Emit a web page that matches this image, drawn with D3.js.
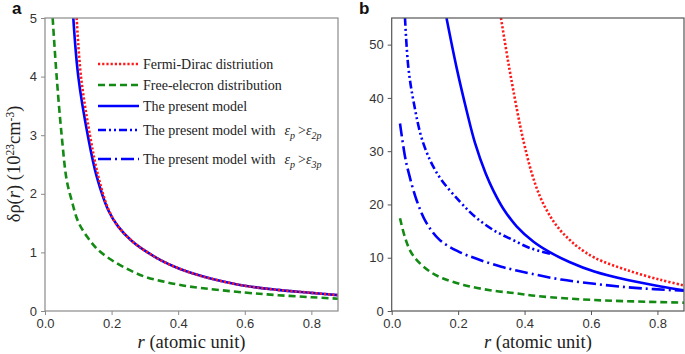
<!DOCTYPE html>
<html lang="en">
<head>
<meta charset="UTF-8">
<title>Induced density: panels a and b</title>
<script src="https://d3js.org/d3.v7.min.js"></script>
<style>
    body { margin: 0; background: #fff; }
    svg { display: block; }
    .tick text { font-family: "Liberation Sans", Arial, sans-serif; font-size: 13px; fill: #333; }
    .label { font-family: "Liberation Serif", "Times New Roman", serif; font-size: 18.5px; fill: #222; }
    .legend text { font-family: "Liberation Serif", "Times New Roman", serif; font-size: 14px; fill: #222; }
    .panel-tag { font-family: "Liberation Sans", Arial, sans-serif; font-size: 17px; font-weight: bold; fill: #111; }
</style>
</head>
<body>
<div id="chart"></div>
<script>
// ---- data: [r (a.u.), delta rho] ----
// panel a (units of 1e23 cm^-3)
const aFermi = [[0.095, 5], [0.108, 4], [0.135, 3], [0.16, 2.3], [0.19, 1.74], [0.22, 1.44], [0.26, 1.2],
    [0.30, 1.03], [0.35, 0.86], [0.40, 0.73], [0.45, 0.63], [0.50, 0.55], [0.60, 0.43], [0.70, 0.36], [0.80, 0.31], [0.88, 0.27]];
const aFree = [[0.023, 5], [0.035, 4], [0.05, 3], [0.065, 2.24], [0.08, 1.89], [0.10, 1.52], [0.13, 1.24], [0.16, 1.04],
    [0.20, 0.87], [0.25, 0.71], [0.30, 0.585], [0.35, 0.51], [0.40, 0.45], [0.45, 0.405], [0.60, 0.315], [0.70, 0.27], [0.80, 0.235], [0.88, 0.21]];
const aModel = [[0.085, 5], [0.10, 4], [0.13, 2.95], [0.155, 2.3], [0.19, 1.72], [0.22, 1.44], [0.26, 1.2],
    [0.30, 1.03], [0.35, 0.86], [0.40, 0.73], [0.45, 0.63], [0.50, 0.55], [0.60, 0.43], [0.70, 0.36], [0.80, 0.31], [0.88, 0.27]];

// panel b
const bFermi = [[0.329, 55], [0.346, 48.5], [0.36, 43.5], [0.386, 35], [0.401, 30.8], [0.422, 25.8], [0.447, 21.4],
    [0.477, 17.8], [0.507, 15.2], [0.535, 13.4], [0.561, 12.0], [0.611, 10.0], [0.712, 7.6], [0.812, 5.8], [0.88, 4.8]];
const bFree = [[0.025, 17.4], [0.04, 13.8], [0.055, 11.4], [0.075, 9.6], [0.115, 7.4], [0.155, 6.1], [0.216, 4.9],
    [0.296, 3.9], [0.376, 3.3], [0.44, 2.8], [0.61, 2.06], [0.88, 1.56]];
const bModel = [[0.165, 55], [0.196, 45.5], [0.226, 37.5], [0.251, 31.5], [0.283, 25.8], [0.306, 22.6], [0.336, 19.2],
    [0.376, 15.9], [0.427, 13.0], [0.477, 11.0], [0.535, 9.2], [0.61, 7.4], [0.71, 5.8], [0.81, 4.6], [0.88, 3.9]];
const bModel2p = [[0.04, 55], [0.05, 45.8], [0.065, 39.6], [0.095, 31.5], [0.14, 25.5], [0.206, 20.5], [0.251, 17.7],
    [0.306, 15.2], [0.366, 13.3], [0.417, 11.8], [0.48, 10.7]];
const bModel3p = [[0.025, 35.2], [0.04, 29], [0.05, 26.2], [0.075, 20.8], [0.105, 16.5], [0.145, 13.3], [0.2, 11.2],
    [0.26, 9.7], [0.33, 8.3], [0.376, 7.6], [0.42, 7.0], [0.51, 5.9], [0.61, 5.1], [0.71, 4.45], [0.79, 4.1], [0.88, 3.8]];

const xTicks = [0, 0.2, 0.4, 0.6, 0.8];
const aYTicks = [0, 1, 2, 3, 4, 5];
const bYTicks = [0, 10, 20, 30, 40, 50];
const legendNames = ["Fermi-Dirac distriution", "Free-elecron distribution", "The present model",
    "The present model with", "The present model with"];
const legendSubs = ["2p", "3p"];

// line styles
const styles = {
    fermi: { color: "#ff1a1a", dash: "2.2,2", width: 2.6 },
    free: { color: "#138a13", dash: "7,4", width: 2.6 },
    model: { color: "#0000ff", dash: null, width: 2.6 },
    m2p: { color: "#0000ff", dash: "8,3,2,3,2,3", width: 2.6 },
    m3p: { color: "#0000ff", dash: "13,4,2,4", width: 2.6 }
};

const W = 685, H = 354;
const svg = d3.select("#chart").append("svg").attr("width", W).attr("height", H);

function panel(opts) {
    const x = d3.scaleLinear().domain([0, 0.88]).range([opts.left, opts.right]);
    const y = d3.scaleLinear().domain([0, opts.ymax]).range([311, 18]);
    const g = svg.append("g");

    const clipId = "clip-" + opts.tag;
    svg.append("clipPath").attr("id", clipId).append("rect")
        .attr("x", opts.left).attr("y", 18).attr("width", opts.right - opts.left).attr("height", 293);

    const line = d3.line().x(d => x(d[0])).y(d => y(d[1])).curve(d3.curveCatmullRom.alpha(0.5));
    const lines = g.append("g").attr("clip-path", `url(#${clipId})`);
    opts.series.forEach(s => {
        const st = styles[s.style];
        lines.append("path")
            .datum(s.data)
            .attr("d", line)
            .attr("fill", "none")
            .attr("stroke", st.color)
            .attr("stroke-width", st.width)
            .attr("stroke-dasharray", st.dash);
    });

    // frame
    g.append("rect")
        .attr("x", opts.left).attr("y", 18)
        .attr("width", opts.right - opts.left).attr("height", 293)
        .attr("fill", "none").attr("stroke", opts.frame).attr("stroke-width", 1.2);

    const xa = g.append("g").attr("transform", "translate(0,311)")
        .call(d3.axisBottom(x).tickValues(xTicks).tickFormat(d3.format(".1f")).tickSize(4).tickPadding(4));
    const ya = g.append("g").attr("transform", `translate(${opts.left},0)`)
        .call(d3.axisLeft(y).tickValues(opts.yTicks).tickFormat(d3.format("d")).tickSize(4).tickPadding(4));
    [xa, ya].forEach(a => {
        a.select(".domain").remove();
        a.selectAll(".tick line").attr("stroke", opts.frame);
    });

    // x label
    const xl = g.append("text").attr("class", "label")
        .attr("x", (opts.left + opts.right) / 2).attr("y", 348)
        .attr("text-anchor", "middle");
    xl.append("tspan").attr("font-style", "italic").text("r");
    xl.append("tspan").text(" (atomic unit)");

    g.append("text").attr("class", "panel-tag")
        .attr("x", opts.tagX).attr("y", 14).text(opts.tag);
    return { x, y, g };
}

panel({
    tag: "a", tagX: 12, left: 45, right: 338, ymax: 5, yTicks: aYTicks, frame: "#8a8a8a",
    series: [
        { data: aFree, style: "free" },
        { data: aModel, style: "model" },
        { data: aFermi, style: "fermi" }
    ]
});

panel({
    tag: "b", tagX: 359, left: 391.7, right: 684, ymax: 55, yTicks: bYTicks, frame: "#555",
    series: [
        { data: bFree, style: "free" },
        { data: bModel3p, style: "m3p" },
        { data: bModel2p, style: "m2p" },
        { data: bModel, style: "model" },
        { data: bFermi, style: "fermi" }
    ]
});

// y label for panel a
const yl = svg.append("text").attr("class", "label")
    .attr("transform", "translate(20,164) rotate(-90)")
    .attr("text-anchor", "middle");
yl.append("tspan").text("δρ(");
yl.append("tspan").attr("font-style", "italic").text("r");
yl.append("tspan").text(") (10");
yl.append("tspan").attr("font-size", "11.5px").attr("dy", -6.5).text("23");
yl.append("tspan").attr("dy", 6.5).text("cm");
yl.append("tspan").attr("font-size", "11.5px").attr("dy", -6.5).text("-3");
yl.append("tspan").attr("dy", 6.5).text(")");

// legend (panel a)
const legendStyles = ["fermi", "free", "model", "m2p", "m3p"];
const legendY = [64, 85, 106, 130, 159];
const legend = svg.append("g").attr("class", "legend");
legendStyles.forEach((k, i) => {
    const st = styles[k];
    legend.append("line")
        .attr("x1", 98).attr("x2", 139)
        .attr("y1", legendY[i]).attr("y2", legendY[i])
        .attr("stroke", st.color).attr("stroke-width", st.width)
        .attr("stroke-dasharray", st.dash);
    const t = legend.append("text").attr("x", 143).attr("y", legendY[i] + 5).text(legendNames[i]);
    if (i >= 3) {
        const sub = legendSubs[i - 3];
        t.append("tspan").attr("dx", 9).attr("font-style", "italic").text("ε");
        t.append("tspan").attr("font-style", "italic").attr("font-size", "10px").attr("dy", 4).text("p");
        t.append("tspan").attr("dy", -4).attr("dx", 3).text(">");
        t.append("tspan").attr("font-style", "italic").text("ε");
        t.append("tspan").attr("font-style", "italic").attr("font-size", "10px").attr("dy", 4).text(sub);
    }
});
</script>
</body>
</html>
